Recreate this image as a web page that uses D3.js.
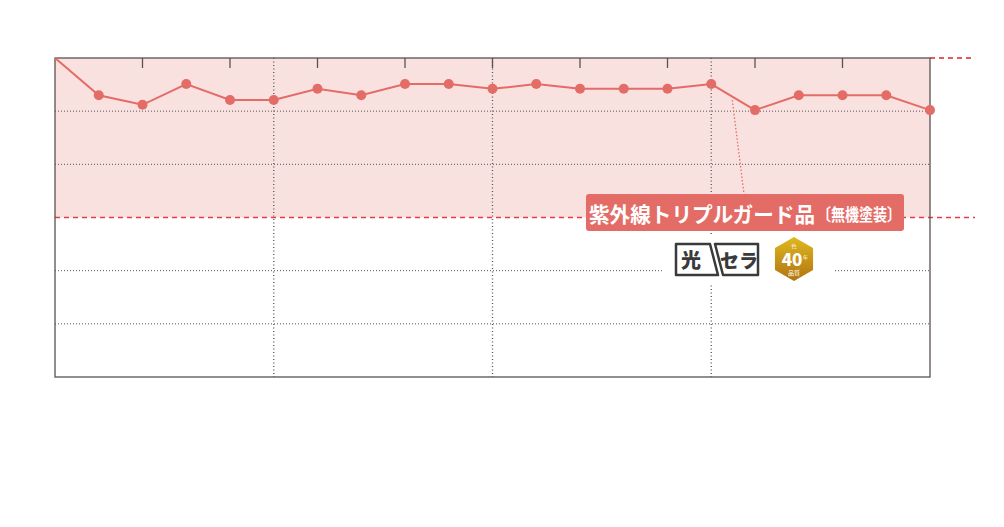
<!DOCTYPE html>
<html><head><meta charset="utf-8">
<script src="https://cdn.jsdelivr.net/npm/d3@7"></script>
<style>body{margin:0;background:#fff;font-family:"Noto Sans CJK JP",sans-serif}</style>
</head><body><svg></svg>
<script>
// values (scale 0..60, one point per step)
var steps = d3.range(21);
var values = [60, 53.0, 51.2, 55.1, 52.1, 52.1, 54.2, 53.0, 55.1, 55.1, 54.2, 55.1, 54.2, 54.2, 54.2, 55.1, 50.2, 53.0, 53.0, 53.0, 50.2];
var yTicks = [10, 20, 30, 40, 50];
var bandTop = 60, bandBottom = 30;
var labelText = "紫外線トリプルガード品";
var labelSub = "〔無機塗装〕";

var svg = d3.select("svg").attr("width", 1004).attr("height", 527);

var x = d3.scaleLinear().domain([0, 20]).range([55, 930]);
var y = d3.scaleLinear().domain([0, 60]).range([377, 58]);
var col = "#e46c67";

//Shaded band
svg.append("rect").attr("x", x(0)).attr("y", y(bandTop)).attr("width", x(20) - x(0))
	.attr("height", y(bandBottom) - y(bandTop)).attr("fill", "#f9e1e0");

//Grid
yTicks.filter(function(d){ return d != bandBottom; }).forEach(function(t) {
	svg.append("line").attr("x1", x(0)).attr("x2", x(20)).attr("y1", y(t)).attr("y2", y(t))
		.attr("stroke", "#555").attr("stroke-dasharray", "1,2");
});
[5, 10, 15].forEach(function(s) {
	svg.append("line").attr("x1", x(s)).attr("x2", x(s)).attr("y1", y(60)).attr("y2", y(0))
		.attr("stroke", "#555").attr("stroke-dasharray", "1,2.5").attr("stroke-width", 1.3);
});
//Top ticks
d3.range(2, 20, 2).forEach(function(s) {
	svg.append("line").attr("x1", x(s)).attr("x2", x(s)).attr("y1", y(60)).attr("y2", y(60) + 10)
		.attr("stroke", "#555").attr("stroke-width", 1.3);
});
//Reference dashed lines
svg.append("line").attr("x1", x(20)).attr("x2", 975).attr("y1", y(bandTop)).attr("y2", y(bandTop))
	.attr("stroke", "#e0202a").attr("stroke-dasharray", "5,4").attr("stroke-width", 1.6);
svg.append("line").attr("x1", x(0)).attr("x2", 975).attr("y1", y(bandBottom)).attr("y2", y(bandBottom))
	.attr("stroke", "#e63c48").attr("stroke-dasharray", "5,4").attr("stroke-width", 1.4);

//Frame
svg.append("rect").attr("x", x(0)).attr("y", y(60)).attr("width", x(20) - x(0)).attr("height", y(0) - y(60))
	.attr("fill", "none").attr("stroke", "#5a5250").attr("stroke-width", 1.3);

//Line + markers
svg.append("path").datum(values)
	.attr("d", d3.line().x(function(d, i){ return x(i); }).y(function(d){ return y(d); }))
	.attr("fill", "none").attr("stroke", col).attr("stroke-width", 2);
svg.selectAll(".pt").data(values.slice(1)).enter().append("circle")
	.attr("cx", function(d, i){ return x(i + 1); }).attr("cy", function(d){ return y(d); })
	.attr("r", 5).attr("fill", col);

//Leader
svg.append("line").attr("x1", x(15) + 21).attr("y1", y(values[15]) + 16).attr("x2", 744).attr("y2", 194)
	.attr("stroke", col).attr("stroke-dasharray", "1.5,2").attr("stroke-width", 1.3);

//Label
svg.append("rect").attr("x", 586).attr("y", 194).attr("width", 318).attr("height", 37).attr("rx", 3).attr("fill", col);
svg.append("text").attr("x", 589).attr("y", 222).attr("fill", "#fff").attr("font-weight", 700)
	.attr("font-size", 21).attr("textLength", 226).attr("lengthAdjust", "spacingAndGlyphs").text(labelText);
svg.append("text").attr("x", 817).attr("y", 221).attr("fill", "#fff").attr("font-weight", 700)
	.attr("font-size", 17).attr("textLength", 84).attr("lengthAdjust", "spacingAndGlyphs").text(labelSub);

//Logos
var lg = svg.append("g");
lg.append("rect").attr("x", 664).attr("y", 236).attr("width", 170).attr("height", 48).attr("fill", "#fff");
lg.append("path").attr("d", "M676,244 h34 l8,31 h-42 z").attr("fill", "none").attr("stroke", "#3a3a3a").attr("stroke-width", 2.5).attr("stroke-linejoin", "round");
lg.append("path").attr("d", "M715,244 h43 v31 h-35 z").attr("fill", "none").attr("stroke", "#3a3a3a").attr("stroke-width", 2.5).attr("stroke-linejoin", "round");
lg.append("text").attr("x", 691).attr("y", 268).attr("text-anchor", "middle").attr("font-size", 20).attr("font-weight", 900).attr("fill", "#3a3a3a").text("光");
lg.append("text").attr("x", 739).attr("y", 268).attr("text-anchor", "middle").attr("font-size", 19).attr("font-weight", 900).attr("fill", "#3a3a3a").text("セラ");
var hex = d3.range(6).map(function(i){ var a = Math.PI / 3 * i + Math.PI / 6; return [794 + 22 * Math.cos(a), 259 + 22 * Math.sin(a)]; });
var grad = svg.append("defs").append("linearGradient").attr("id", "gold").attr("x1", 0).attr("y1", 0).attr("x2", 0).attr("y2", 1);
grad.append("stop").attr("offset", 0).attr("stop-color", "#e0b820");
grad.append("stop").attr("offset", 1).attr("stop-color", "#b07410");
lg.append("polygon").attr("points", hex.join(" ")).attr("fill", "url(#gold)");
lg.append("text").attr("x", 792).attr("y", 266).attr("text-anchor", "middle").attr("font-size", 17).attr("font-weight", 900).attr("fill", "#fff").text("40");
lg.append("text").attr("x", 803).attr("y", 259).attr("font-size", 5).attr("fill", "#fff").text("年");
lg.append("text").attr("x", 794).attr("y", 275).attr("text-anchor", "middle").attr("font-size", 6).attr("fill", "#fff").text("品質");
lg.append("text").attr("x", 794).attr("y", 248).attr("text-anchor", "middle").attr("font-size", 5).attr("fill", "#fff").text("色");
</script></body></html>
